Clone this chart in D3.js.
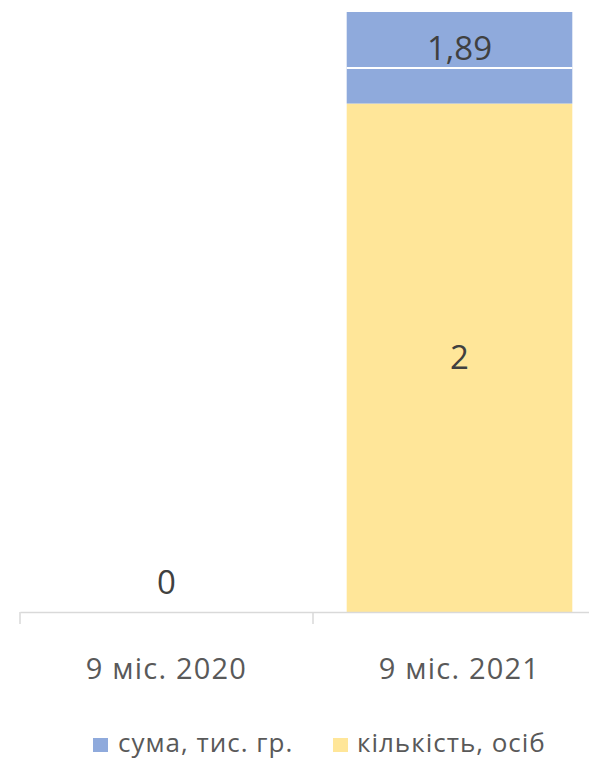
<!DOCTYPE html>
<html><head><meta charset="utf-8">
<script src="https://cdn.jsdelivr.net/npm/d3@7"></script>
<style>body{margin:0;background:#fff}svg{display:block}text{font-family:"Open Sans","Noto Sans",sans-serif}</style>
</head><body><svg id="c" width="589" height="760"></svg>
<script>
const categories = ["9 міс. 2020", "9 міс. 2021"];
const seriesNames = ["кількість, осіб", "сума, тис. гр."];
const kilkist = [0, 2];
const suma = [0, 1.89];
const sumaLabels = ["", "1,89"];
const kilkistLabels = ["0", "2"];
const axisMax = 2.36;
const breakValue = 2.14;
const colors = {"кількість, осіб": "#FFE699", "сума, тис. гр.": "#8FAADC"};

const svg = d3.select("#c");
const plot = {left: 20, right: 606, top: 12, bottom: 612};
const x = d3.scaleBand().domain(categories).range([plot.left, plot.right]).paddingInner(0.23).paddingOuter(0.115);
const y = d3.scaleLinear().domain([0, axisMax]).range([plot.bottom, plot.top]);

svg.append("clipPath").attr("id","clip").append("rect")
  .attr("x", plot.left).attr("y", plot.top).attr("width", plot.right-plot.left).attr("height", plot.bottom-plot.top);

const data = categories.map((c,i)=>({cat:c, "кількість, осіб":kilkist[i], "сума, тис. гр.":suma[i]}));
const stack = d3.stack().keys(seriesNames)(data);

const g = svg.append("g").attr("clip-path","url(#clip)");
stack.forEach(s=>{
  g.selectAll(null).data(s).join("rect")
    .attr("x", d=>x(d.data.cat)).attr("width", x.bandwidth())
    .attr("y", d=>y(d[1])).attr("height", d=>y(d[0])-y(d[1]))
    .attr("fill", colors[s.key]);
});
g.selectAll(null).data(data.filter(d=>d["сума, тис. гр."]>0)).join("line")
  .attr("x1", d=>x(d.cat)).attr("x2", d=>x(d.cat)+x.bandwidth())
  .attr("y1", y(breakValue)).attr("y2", y(breakValue))
  .attr("stroke","#fff").attr("stroke-width",2);

const axisG = svg.append("g").attr("transform",`translate(0,${plot.bottom})`)
  .call(d3.axisBottom(x).tickSize(0).tickFormat(""));
axisG.select(".domain").attr("stroke","#D9D9D9").attr("stroke-width",1.5);
const bounds = [plot.left, ...categories.slice(1).map(c=>x(c)-x.step()*x.paddingInner()/2)];
svg.selectAll(null).data(bounds).join("line")
  .attr("x1",d=>d).attr("x2",d=>d).attr("y1",plot.bottom).attr("y2",plot.bottom+12)
  .attr("stroke","#D9D9D9").attr("stroke-width",1.5);

svg.selectAll(null).data(categories).join("text")
  .attr("x", d=>x(d)+x.bandwidth()/2).attr("y", 679)
  .attr("text-anchor","middle").attr("font-size",29).attr("letter-spacing","1.2px")
  .attr("fill","#595959").text(d=>d);

const dl = {fs:33, fill:"#404040"};
data.forEach((d,i)=>{
  const cx = x(d.cat)+x.bandwidth()/2;
  let cy;
  if (kilkist[i]===0) cy = y(0) - 30; else cy = (y(0)+y(kilkist[i]))/2;
  svg.append("text").attr("x",cx).attr("y",cy).attr("dy","0.35em")
    .attr("text-anchor","middle").attr("font-size",dl.fs).attr("fill",dl.fill).text(kilkistLabels[i]);
  if (sumaLabels[i]) {
    const top = Math.max(y(kilkist[i]+suma[i]), plot.top);
    const cy2 = (top + y(breakValue))/2 + 8;
    svg.append("text").attr("x",cx).attr("y",cy2).attr("dy","0.35em")
      .attr("text-anchor","middle").attr("font-size",dl.fs).attr("fill",dl.fill).text(sumaLabels[i]);
  }
});

const legendItems = [{name:"сума, тис. гр.", x:93},{name:"кількість, осіб", x:333}];
const lg = svg.selectAll(null).data(legendItems).join("g").attr("transform",d=>`translate(${d.x},738)`);
lg.append("rect").attr("width",15).attr("height",14).attr("fill",d=>colors[d.name]);
lg.append("text").attr("x",d=>d.x===93?25:24).attr("y",14).attr("font-size",26).attr("letter-spacing","1px")
  .attr("fill","#595959").text(d=>d.name);
</script></body></html>
